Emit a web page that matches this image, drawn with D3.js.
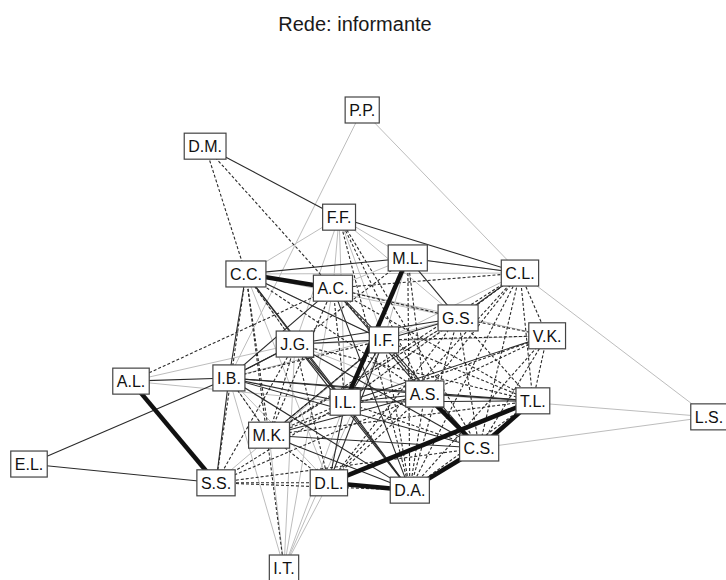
<!DOCTYPE html>
<html>
<head>
<meta charset="utf-8">
<script src="https://cdn.jsdelivr.net/npm/d3@7"></script>
<style>
  body { margin: 0; background: #fff; }
  svg { display: block; font-family: "Liberation Sans", Arial, sans-serif; }
</style>
</head>
<body>
<div id="chart"></div>
<script>
const W = 726, H = 580;

// node names and layout positions (0..1 layout space)
const nodeNames = ["P.P.", "D.M.", "F.F.", "C.C.", "A.C.", "M.L.", "C.L.", "G.S.", "V.K.", "J.G.", "I.F.", "A.L.",
  "I.B.", "I.L.", "A.S.", "T.L.", "L.S.", "M.K.", "C.S.", "E.L.", "S.S.", "D.L.", "D.A.", "I.T."];
const nodeX = [0.490, 0.259, 0.456, 0.319, 0.447, 0.557, 0.722, 0.631, 0.762, 0.391, 0.522, 0.150,
  0.294, 0.465, 0.582, 0.741, 1.000, 0.353, 0.662, 0.000, 0.275, 0.441, 0.560, 0.375];
const nodeY = [0.000, 0.079, 0.234, 0.358, 0.389, 0.323, 0.356, 0.454, 0.493, 0.511, 0.502, 0.592,
  0.585, 0.638, 0.620, 0.635, 0.670, 0.710, 0.738, 0.773, 0.814, 0.814, 0.830, 1.000];

// ties by kind
const grayEdges = [
  ["P.P.", "C.L."], ["P.P.", "I.B."], ["F.F.", "C.C."], ["F.F.", "A.C."], ["F.F.", "J.G."], ["F.F.", "I.F."],
  ["F.F.", "G.S."], ["F.F.", "M.L."], ["F.F.", "I.L."], ["C.C.", "J.G."], ["C.C.", "G.S."], ["C.C.", "C.L."],
  ["M.L.", "I.F."], ["M.L.", "A.C."], ["A.L.", "I.L."], ["A.L.", "J.G."], ["C.L.", "L.S."], ["C.S.", "L.S."],
  ["A.S.", "L.S."], ["I.T.", "I.B."], ["I.T.", "J.G."], ["I.T.", "I.F."], ["I.T.", "D.L."], ["I.T.", "A.C."],
  ["I.T.", "I.L."], ["I.T.", "M.K."], ["I.B.", "M.K."], ["J.G.", "V.K."], ["I.F.", "C.L."], ["G.S.", "A.C."],
  ["C.C.", "I.F."], ["A.C.", "V.K."], ["J.G.", "A.S."], ["I.B.", "D.L."], ["G.S.", "I.L."], ["M.L.", "C.L."],
  ["I.B.", "G.S."], ["C.C.", "D.L."], ["S.S.", "I.F."], ["M.K.", "G.S."]
];
const dashedEdges = [
  ["D.M.", "C.C."], ["D.M.", "A.C."], ["A.L.", "A.C."], ["C.L.", "V.K."], ["C.L.", "T.L."], ["C.L.", "C.S."],
  ["C.L.", "D.A."], ["C.L.", "A.S."], ["C.L.", "I.L."], ["C.L.", "M.K."], ["C.L.", "D.L."], ["M.L.", "J.G."],
  ["A.C.", "C.L."], ["G.S.", "V.K."], ["I.F.", "V.K."], ["V.K.", "T.L."], ["V.K.", "C.S."], ["V.K.", "D.A."],
  ["V.K.", "A.S."], ["V.K.", "M.K."], ["G.S.", "T.L."], ["G.S.", "D.A."], ["G.S.", "C.S."], ["G.S.", "D.L."],
  ["F.F.", "A.S."], ["F.F.", "C.S."], ["F.F.", "D.A."], ["C.C.", "S.S."], ["C.C.", "M.K."], ["C.C.", "I.T."],
  ["I.B.", "M.K."], ["J.G.", "S.S."], ["J.G.", "M.K."], ["J.G.", "D.L."], ["S.S.", "I.L."], ["S.S.", "A.S."],
  ["S.S.", "D.L."], ["S.S.", "D.A."], ["S.S.", "C.S."], ["M.K.", "I.L."], ["M.K.", "D.L."], ["I.F.", "D.A."],
  ["A.S.", "D.A."], ["A.S.", "D.L."], ["T.L.", "D.A."], ["I.L.", "C.S."], ["A.C.", "I.L."], ["A.C.", "C.S."],
  ["A.C.", "T.L."], ["I.F.", "A.S."], ["I.F.", "T.L."], ["M.L.", "A.S."], ["M.L.", "D.A."], ["C.C.", "A.S."],
  ["J.G.", "T.L."], ["A.C.", "M.K."], ["A.C.", "G.S."], ["I.F.", "M.K."], ["M.K.", "T.L."], ["G.S.", "M.K."],
  ["I.B.", "I.F."], ["C.C.", "J.G."]
];
const solidEdges = [
  ["D.M.", "F.F."], ["F.F.", "C.L."], ["C.C.", "M.L."], ["M.L.", "C.L."], ["M.L.", "G.S."], ["C.L.", "G.S."],
  ["G.S.", "I.F."], ["G.S.", "J.G."], ["A.L.", "I.B."], ["E.L.", "I.B."], ["E.L.", "S.S."], ["I.B.", "S.S."],
  ["V.K.", "I.L."], ["J.G.", "I.F."], ["I.B.", "I.L."], ["I.B.", "A.S."], ["I.B.", "T.L."], ["I.B.", "C.S."],
  ["I.B.", "D.A."], ["J.G.", "C.S."], ["J.G.", "D.A."], ["J.G.", "I.L."], ["M.K.", "C.S."], ["M.K.", "A.S."],
  ["I.L.", "A.S."], ["I.L.", "T.L."], ["I.L.", "D.A."], ["C.C.", "I.L."], ["C.C.", "D.A."], ["C.C.", "I.B."],
  ["A.C.", "I.F."], ["A.C.", "D.A."], ["I.F.", "D.L."], ["I.F.", "C.S."], ["I.L.", "D.L."], ["A.S.", "T.L."],
  ["M.K.", "D.A."], ["I.B.", "J.G."], ["I.B.", "A.C."], ["A.C.", "A.S."], ["J.G.", "I.B."], ["M.K.", "I.F."],
  ["I.F.", "I.L."], ["C.C.", "I.F."]
];
const thickEdges = [
  ["C.C.", "A.C."], ["M.L.", "I.L."], ["A.L.", "S.S."], ["A.S.", "C.S."], ["T.L.", "C.S."], ["T.L.", "D.L."],
  ["D.L.", "D.A."], ["D.A.", "C.S."]
];

const title = "Rede: informante";

const svg = d3.select("#chart").append("svg")
  .attr("width", W).attr("height", H);

const x = d3.scaleLinear().domain([0, 1]).range([29, 709]);
const y = d3.scaleLinear().domain([0, 1]).range([110, 568]);

const nodes = nodeNames.map((n, i) => ({ name: n, x: x(nodeX[i]), y: y(nodeY[i]) }));
const byName = new Map(nodes.map(d => [d.name, d]));

svg.append("text")
  .attr("x", 355).attr("y", 31)
  .attr("text-anchor", "middle")
  .attr("font-size", 20)
  .attr("fill", "#1a1a1a")
  .text(title);

const kinds = [
  { edges: grayEdges, stroke: "#bdbdbd", width: 1, dash: null },
  { edges: solidEdges, stroke: "#2a2a2a", width: 1.1, dash: null },
  { edges: dashedEdges, stroke: "#2a2a2a", width: 1.1, dash: "3,2" },
  { edges: thickEdges, stroke: "#111", width: 4.5, dash: null }
];

const gEdges = svg.append("g");
kinds.forEach(k => {
  gEdges.append("g")
    .selectAll("line")
    .data(k.edges)
    .join("line")
      .attr("x1", d => byName.get(d[0]).x)
      .attr("y1", d => byName.get(d[0]).y)
      .attr("x2", d => byName.get(d[1]).x)
      .attr("y2", d => byName.get(d[1]).y)
      .attr("stroke", k.stroke)
      .attr("stroke-width", k.width)
      .attr("stroke-dasharray", k.dash);
});

const gNodes = svg.append("g")
  .selectAll("g")
  .data(nodes)
  .join("g")
    .attr("transform", d => `translate(${d.x},${d.y})`);

const labels = gNodes.append("text")
  .attr("text-anchor", "middle")
  .attr("dy", "0.36em")
  .attr("font-size", 16)
  .attr("fill", "#111")
  .text(d => d.name);

labels.each(function(d) { d.w = this.getComputedTextLength() + 8; });

gNodes.insert("rect", "text")
  .attr("x", d => -d.w / 2)
  .attr("y", -13)
  .attr("width", d => d.w)
  .attr("height", 26)
  .attr("fill", "#fff")
  .attr("stroke", "#444")
  .attr("stroke-width", 1.2);
</script>
</body>
</html>
